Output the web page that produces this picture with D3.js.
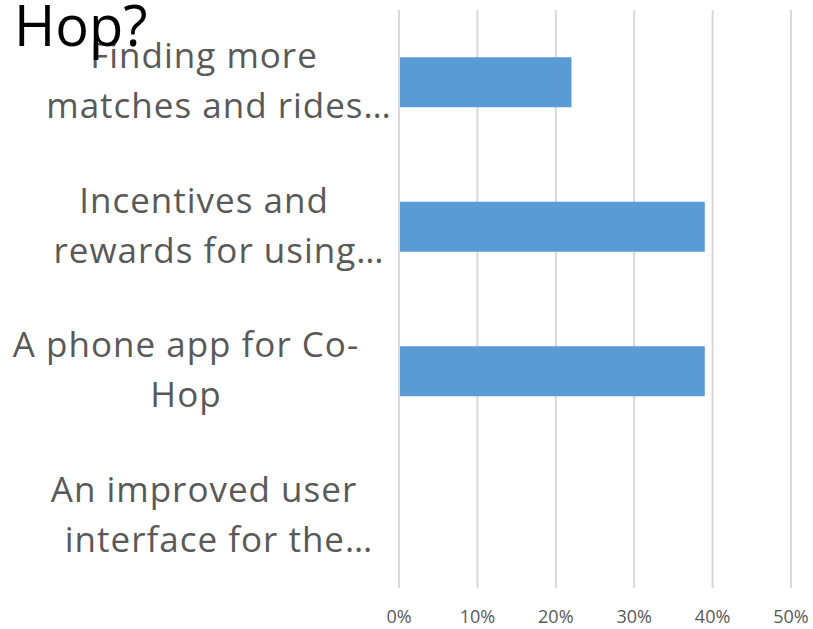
<!DOCTYPE html>
<html>
<head>
<meta charset="utf-8">
<script src="https://cdn.jsdelivr.net/npm/d3@7"></script>
<style>
  body { margin: 0; background: #fff; }
  #chart { width: 813px; height: 629px; }
</style>
</head>
<body>
<div id="chart"></div>
<script>
// chart data
const categories = [
    ["Finding more", "matches and rides…"],
    ["Incentives and", "rewards for using…"],
    ["A phone app for Co-", "Hop"],
    ["An improved user", "interface for the…"]
];
const values = [0.22, 0.39, 0.39, 0];
const ticks = [0, 0.1, 0.2, 0.3, 0.4, 0.5];
const title = "Hop?";

const width = 813;
const height = 629;
const margin = { top: 10, left: 399, right: 22, bottom: 41 };

const svg = d3.select("#chart")
    .append("svg")
    .attr("width", width)
    .attr("height", height);

const x = d3.scaleLinear()
    .domain([0, 0.5])
    .range([margin.left, width - margin.right]);

const y = d3.scaleBand()
    .domain(d3.range(categories.length))
    .range([margin.top, height - margin.bottom])
    .paddingInner(0.654)
    .paddingOuter(0.327);

// gridlines
svg.append("g")
    .selectAll("line")
    .data(ticks)
    .join("line")
    .attr("x1", d => x(d))
    .attr("x2", d => x(d))
    .attr("y1", margin.top)
    .attr("y2", height - margin.bottom)
    .attr("stroke", "#d9d9d9")
    .attr("stroke-width", 2);

// bars
svg.append("g")
    .selectAll("rect")
    .data(values)
    .join("rect")
    .attr("x", x(0) + 1)
    .attr("y", (d, i) => y(i))
    .attr("width", d => Math.max(0, x(d) - x(0) - 1))
    .attr("height", y.bandwidth())
    .attr("fill", "#5b9bd5");

// tick labels
svg.append("g")
    .selectAll("text")
    .data(ticks)
    .join("text")
    .attr("x", d => x(d))
    .attr("y", height - margin.bottom + 35)
    .attr("text-anchor", "middle")
    .style("font", "18px 'Open Sans', sans-serif")
    .attr("fill", "#595959")
    .text(d3.format(".0%"));

// category labels, two lines each (truncated ones sit a bit further right)
const lab = svg.append("g")
    .style("font", "35px 'Open Sans', sans-serif")
    .style("letter-spacing", "1px")
    .attr("fill", "#595959");

categories.forEach((lines, i) => {
    const cy = y(i) + y.bandwidth() / 2;
    const truncated = lines[1].endsWith("…");
    const cx = truncated ? [204, 219] : [186, 186];
    lines.forEach((t, j) => {
        lab.append("text")
            .attr("x", cx[j])
            .attr("y", cy - 14 + j * 50)
            .attr("text-anchor", "middle")
            .text(t);
    });
});

// title (cut off in original)
svg.append("text")
    .attr("x", 14)
    .attr("y", 46)
    .style("font", "56px 'Open Sans', sans-serif")
    .attr("fill", "#000")
    .text(title);
</script>
</body>
</html>
